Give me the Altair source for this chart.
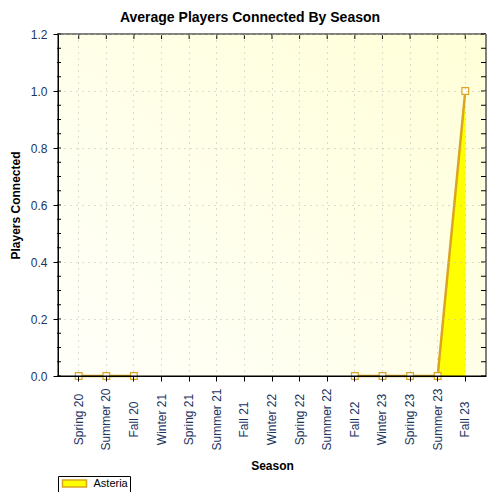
import altair as alt
import pandas as pd

# seasons on the x axis, average players for the one server
seasons = ["Spring 20", "Summer 20", "Fall 20", "Winter 21", "Spring 21",
           "Summer 21", "Fall 21", "Winter 22", "Spring 22", "Summer 22",
           "Fall 22", "Winter 23", "Spring 23", "Summer 23", "Fall 23"]
asteria = [0, 0, 0, None, None, None, None, None, None, None, 0, 0, 0, 0, 1.0]
series_name = "Asteria"

y_major = [0.0, 0.2, 0.4, 0.6, 0.8, 1.0, 1.2]
y_minor = [round(i * 0.05, 2) for i in range(25)]

W, H = 428, 342
FONT = "Liberation Sans"
LABEL_COLOR = "#1c3560"
LINE_COLOR = "#DAA520"

df = pd.DataFrame({"season": seasons, "players": asteria, "series": series_name})
# split into runs so the line breaks where there is no data
df["segment"] = df["players"].isna().cumsum()
df_valid = df.dropna(subset=["players"])

df_minor = pd.DataFrame({"tick": y_minor})
df_one = pd.DataFrame({"a": [0]})

x_scale = alt.Scale(domain=seasons, padding=0.5)
y_scale = alt.Scale(domain=[0, 1.2], nice=False)

x_axis = alt.Axis(
    title="Season", labelAngle=270, labelAlign="center", labelBaseline="middle",
    labelPadding=38, labelOverlap=False, tickSize=5, grid=True, gridDash=[1, 5],
    gridColor="#b8b8b8", domainColor="black", tickColor="black",
    labelColor=LABEL_COLOR, labelFont=FONT, labelFontSize=12,
    titleFont=FONT, titleFontSize=12, titleFontWeight="bold", titleColor="black",
    titleY=89, titleBaseline="middle", zindex=1,
)
y_axis = alt.Axis(
    title="Players Connected", values=y_major, format=".1f", tickSize=5,
    labelPadding=6, grid=True, gridDash=[1, 5], gridColor="#b8b8b8",
    domainColor="black", tickColor="black", labelColor=LABEL_COLOR,
    labelFont=FONT, labelFontSize=12, titleFont=FONT, titleFontSize=12,
    titleFontWeight="bold", titleColor="black", titleX=-43, titleY=H / 2,
    titleAngle=270, titleAlign="center", titleBaseline="middle", zindex=1,
)

x_enc = alt.X("season:N", scale=x_scale, axis=x_axis, sort=seasons)
y_enc = alt.Y("players:Q", scale=y_scale, axis=y_axis)

bg = alt.Chart(df_one).mark_rect(
    color=alt.LinearGradient(
        gradient="linear", x1=0, y1=1, x2=1, y2=0,
        stops=[alt.GradientStop(color="#fffffa", offset=0),
               alt.GradientStop(color="#ffffd8", offset=1)],
    )
).encode(x=alt.value(0), x2=alt.value(W), y=alt.value(0), y2=alt.value(H))

area = alt.Chart(df_valid).mark_area(color="#FFFF00", opacity=1).encode(
    x=x_enc, y=y_enc, detail="segment:N"
)

line = alt.Chart(df_valid).mark_line(strokeWidth=2.5).encode(
    x=x_enc, y=y_enc, detail="segment:N",
    color=alt.Color(
        "series:N",
        scale=alt.Scale(domain=[series_name], range=[LINE_COLOR]),
        legend=alt.Legend(
            title=None, orient="none", legendX=0, legendY=442,
            strokeColor="black", fillColor="white", padding=1.5, cornerRadius=0,
            symbolType="M-2.4,-0.7H2.4V0.7H-2.4Z", symbolSize=100,
            symbolOffset=9, symbolFillColor="#FFFF00",
            symbolStrokeColor=LINE_COLOR, symbolStrokeWidth=1.5,
            labelFont=FONT, labelFontSize=11, labelColor="black",
            labelOffset=13, labelLimit=60,
        ),
    ),
)

points = alt.Chart(df_valid).mark_point(
    shape="square", filled=True, fill="white", stroke=LINE_COLOR,
    strokeWidth=1.2, size=45, opacity=1
).encode(x=x_enc, y=y_enc)

frame = alt.Chart(df_one).mark_rect(filled=False, stroke="black", strokeWidth=1).encode(
    x=alt.value(0), x2=alt.value(W), y=alt.value(0), y2=alt.value(H)
)

top_ticks = alt.Chart(df).mark_rule(color="black").encode(
    x=x_enc, y=alt.value(0), y2=alt.value(5)
)

right_ticks = alt.Chart(df_minor).mark_rule(color="black").encode(
    y=alt.Y("tick:Q", scale=y_scale, axis=y_axis),
    x=alt.value(W - 5), x2=alt.value(W),
)

left_minor = alt.Chart(df_minor).mark_rule(color="black").encode(
    y=alt.Y("tick:Q", scale=y_scale, axis=y_axis),
    x=alt.value(-1), x2=alt.value(3),
)

chart = (
    alt.layer(bg, area, line, points, frame, top_ticks, right_ticks, left_minor)
    .properties(
        width=W, height=H,
        title=alt.TitleParams(
            "Average Players Connected By Season", font=FONT, fontSize=14,
            fontWeight="bold", color="black", anchor="middle", dx=-22,
            offset=12, dy=20, baseline="alphabetic",
        ),
        autosize=alt.AutoSizeParams(type="none"),
        padding={"left": 50, "top": 26, "right": 6, "bottom": 116},
        background="white",
    )
    .configure_view(stroke=None)
)

chart.save("out.html", embed_options={"renderer": "svg", "actions": False})
